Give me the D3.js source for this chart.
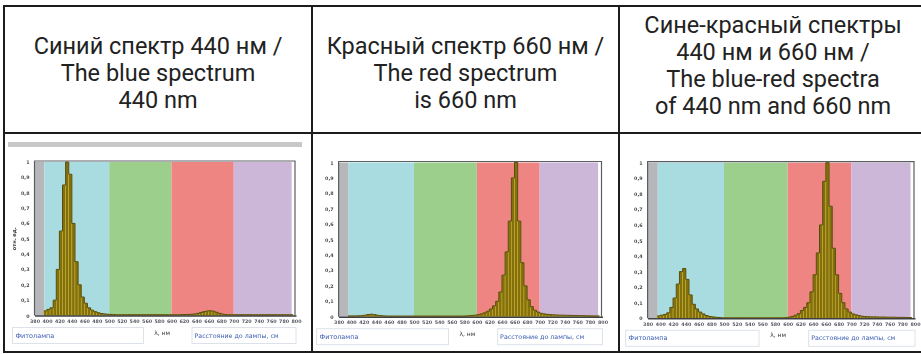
<!DOCTYPE html>
<html>
<head>
<meta charset="utf-8">
<script src="https://cdn.jsdelivr.net/npm/d3@7"></script>
<style>
  body { margin: 0; background: #fff; }
  svg { display: block; }
</style>
</head>
<body>
<svg id="chart" width="921" height="354"></svg>
<script>
// ---- Data -------------------------------------------------------------
const headerLines = [
  ["Синий спектр 440 нм /", "The blue spectrum", "440 nm"],
  ["Красный спектр 660 нм /", "The red spectrum", "is 660 nm"],
  ["Сине-красный спектры", "440 нм и 660 нм /", "The blue-red spectra", "of 440 nm and 660 nm"]
];

// Spectra: relative intensity in 5 nm bins, first bin starts at 395 nm
const binStart = 395;
const binWidth = 5;

const blueSpectrum = [
  0.03, 0.04, 0.05, 0.1, 0.3, 0.55, 0.85, 1.0, 0.92, 0.6,
  0.35, 0.2, 0.12, 0.08, 0.05, 0.035, 0.025, 0.018, 0.013, 0.01,
  0.008, 0.007, 0.006, 0.005, 0.005, 0.005, 0.005, 0.005, 0.005, 0.005,
  0.005, 0.005, 0.005, 0.005, 0.005, 0.005, 0.005, 0.005, 0.005, 0.005,
  0.005, 0.005, 0.005, 0.005, 0.006, 0.006, 0.007, 0.008, 0.01, 0.014,
  0.02, 0.025, 0.029, 0.031, 0.028, 0.021, 0.014, 0.009, 0.006, 0.005,
  0.005, 0.005, 0.005, 0.005, 0.005, 0.005, 0.005, 0.005, 0.005, 0.005,
  0.005, 0.005, 0.005, 0.005, 0.005, 0.005, 0.005, 0.005, 0.005, 0.005
];

const redSpectrum = [
  0.005, 0.005, 0.005, 0.006, 0.007, 0.01, 0.014, 0.016, 0.013, 0.009,
  0.007, 0.005, 0.004, 0.004, 0.004, 0.004, 0.004, 0.004, 0.004, 0.004,
  0.004, 0.004, 0.004, 0.004, 0.004, 0.004, 0.004, 0.004, 0.004, 0.004,
  0.004, 0.004, 0.004, 0.004, 0.004, 0.004, 0.004, 0.005, 0.006, 0.008,
  0.01, 0.013, 0.018, 0.025, 0.035, 0.05, 0.07, 0.1, 0.16, 0.27,
  0.42, 0.62, 0.9, 1.0, 0.62, 0.35, 0.2, 0.11, 0.065, 0.042,
  0.03, 0.022, 0.018, 0.015, 0.013, 0.012, 0.011, 0.01, 0.01, 0.009,
  0.009, 0.008, 0.008, 0.007, 0.007, 0.006, 0.006, 0.005, 0.005, 0.005
];

const blueRedSpectrum = [
  0.015, 0.02, 0.025, 0.035, 0.07, 0.13, 0.22, 0.3, 0.32, 0.25,
  0.15, 0.09, 0.06, 0.04, 0.028, 0.018, 0.012, 0.009, 0.007, 0.005,
  0.003, 0.003, 0.003, 0.003, 0.003, 0.003, 0.003, 0.003, 0.003, 0.003,
  0.003, 0.003, 0.003, 0.003, 0.003, 0.003, 0.003, 0.003, 0.003, 0.003,
  0.004, 0.007, 0.012, 0.02, 0.03, 0.05, 0.07, 0.1, 0.17, 0.28,
  0.42, 0.6, 0.88, 1.0, 0.72, 0.45, 0.28, 0.16, 0.1, 0.06,
  0.04, 0.028, 0.022, 0.017, 0.013, 0.011, 0.01, 0.009, 0.009, 0.008,
  0.008, 0.008, 0.007, 0.007, 0.007, 0.006, 0.006, 0.006, 0.005, 0.005
];

const spectra = [blueSpectrum, redSpectrum, blueRedSpectrum];

// Wavelength ranges shaded behind each spectrum (nm)
const bandFrom  = [380, 396, 500, 600, 700];
const bandTo    = [396, 500, 600, 700, 793];
const bandColor = ["#b6b7bb", "#a9dce1", "#9dcf8c", "#ee8582", "#cdb7d9"];

const xTicks = [380, 400, 420, 440, 460, 480, 500, 520, 540, 560, 580,
                600, 620, 640, 660, 680, 700, 720, 740, 760, 780, 800];
const yTicks = [0, 0.1, 0.2, 0.3, 0.4, 0.5, 0.6, 0.7, 0.8, 0.9, 1];

const yTitle = "отн. ед.";
const xTitle = "λ, нм";
const lampLabel = "Фитолампа";
const distanceLabel = "Расстояние до лампы, см";

// ---- Layout -----------------------------------------------------------
const svg = d3.select("#chart");
const tableLeft = 4, tableTop = 6, tableBottom = 352, tableRight = 923;
const rowSplit = 133;
const colSplits = [312, 619];
const colEdges = [tableLeft, colSplits[0], colSplits[1], tableRight];

// plot placement inside each lower cell: pixel of 380 nm, 800 nm, value 1, value 0
const panels = [
  { x0: 34.5,  x1: 296,   yTop: 162,   yZero: 315.5, yTitle: true },
  { x0: 338.6, x1: 602.5, yTop: 162.5, yZero: 316.7, yTitle: false },
  { x0: 647.6, x1: 915,   yTop: 162.7, yZero: 318.3, yTitle: false }
];

const defs = svg.append("defs");
defs.append("filter").attr("id", "soft")
  .attr("x", "-5%").attr("y", "-5%").attr("width", "110%").attr("height", "110%")
  .append("feGaussianBlur").attr("stdDeviation", 0.45);

// ---- Header texts -----------------------------------------------------
const headFont = 23.5, lineH = 26.8, capH = headFont * 0.711;
const headCenters = [158, 465.5, 773];
const headFirstLine = [46, 46, 25];   // vertical centre of the first line
headerLines.forEach((lines, c) => {
  svg.append("g").selectAll("text").data(lines).join("text")
    .attr("x", headCenters[c])
    .attr("y", (d, i) => headFirstLine[c] + i * lineH + capH / 2)
    .attr("text-anchor", "middle")
    .attr("font-family", "Roboto, 'Noto Sans', sans-serif")
    .attr("font-size", headFont)
    .attr("fill", "#222")
    .text(d => d);
});

// ---- Spectrum panels --------------------------------------------------
panels.forEach((p, k) => {
  const clipId = "cell" + k;
  defs.append("clipPath").attr("id", clipId).append("rect")
    .attr("x", colEdges[k] + 1.5).attr("y", rowSplit + 1.5)
    .attr("width", colEdges[k + 1] - colEdges[k] - 3)
    .attr("height", tableBottom - rowSplit - 3);

  const g = svg.append("g").attr("clip-path", `url(#${clipId})`)
    .append("g").attr("filter", "url(#soft)");

  const x = d3.scaleLinear().domain([380, 800]).range([p.x0, p.x1]);
  const y = d3.scaleLinear().domain([0, 1]).range([p.yZero, p.yTop]);

  // top scrollbar strip of the first screenshot
  if (k === 0) {
    g.append("rect").attr("x", 8).attr("y", 142).attr("width", 294).attr("height", 5)
      .attr("fill", "#c8c8c8");
  }

  // colour bands
  g.append("g").selectAll("rect").data(bandFrom).join("rect")
    .attr("x", (d) => x(d))
    .attr("y", y(1))
    .attr("width", (d, i) => x(bandTo[i]) - x(d))
    .attr("height", y(0) - y(1))
    .attr("fill", (d, i) => bandColor[i]);

  // spectrum bars
  const data = spectra[k].map((v, i) => ({ a: binStart + i * binWidth, v }));
  g.append("g").selectAll("rect").data(data).join("rect")
    .attr("x", d => x(d.a))
    .attr("y", d => y(d.v))
    .attr("width", x(binStart + binWidth) - x(binStart))
    .attr("height", d => Math.max(0.8, y(0) - y(d.v)))
    .attr("fill", "#83700f")
    .attr("stroke", "#cdb92f")
    .attr("stroke-width", 0.5);

  // outline along the bar tops
  const stepLine = d3.line().x(d => x(d.a)).y(d => y(d.v)).curve(d3.curveStepAfter);
  const last = data[data.length - 1];
  g.append("path")
    .datum(data.concat([{ a: last.a + binWidth, v: last.v }]))
    .attr("d", stepLine)
    .attr("fill", "none")
    .attr("stroke", "#4b410a")
    .attr("stroke-width", 0.9);

  // frame
  g.append("path")
    .attr("d", `M${x(380)},${y(0)}V${y(1) - 1}H${x(800) - 1}V${y(0)}`)
    .attr("fill", "none").attr("stroke", "#5b5d62").attr("stroke-width", 1.2);

  // x axis
  const xAxis = d3.axisBottom(x).tickValues(xTicks).tickSize(0).tickPadding(4)
    .tickFormat(d3.format("d"));
  const ax = g.append("g").attr("transform", `translate(0,${y(0)})`).call(xAxis);
  ax.select(".domain").attr("stroke", "#3d3f45").attr("stroke-width", 1.6);
  ax.selectAll("text").attr("font-size", 4.8).attr("font-weight", "bold").attr("fill", "#555861")
    .attr("font-family", "'DejaVu Sans', sans-serif");

  // y axis labels
  const yAxis = d3.axisLeft(y).tickValues(yTicks).tickSize(0).tickPadding(5)
    .tickFormat(d => d === 1 || d === 0 ? d3.format("d")(d) : d3.format(".1f")(d).replace(".", ","));
  const ay = g.append("g").attr("transform", `translate(${x(380)},0)`).call(yAxis);
  ay.select(".domain").remove();
  ay.selectAll("text").attr("font-size", 4.8).attr("font-weight", "bold").attr("fill", "#45474e")
    .attr("font-family", "'DejaVu Sans', sans-serif");

  if (p.yTitle) {
    g.append("text")
      .attr("transform", `translate(${x(380) - 19},${y(0.5)}) rotate(-90)`)
      .attr("text-anchor", "middle")
      .attr("font-size", 5).attr("font-weight", "bold").attr("fill", "#333")
      .attr("font-family", "'DejaVu Sans', sans-serif")
      .text(yTitle);
  }

  // bottom info boxes
  const boxTop = y(0) + 12, boxH = 16;
  g.append("rect").attr("x", x(380) - 22).attr("y", boxTop)
    .attr("width", x(555) - x(380) + 22).attr("height", boxH)
    .attr("fill", "#fff").attr("stroke", "#dde2ea").attr("stroke-width", 1);
  g.append("rect").attr("x", x(633)).attr("y", boxTop)
    .attr("width", x(800) - x(633)).attr("height", boxH)
    .attr("fill", "#fff").attr("stroke", "#dde2ea").attr("stroke-width", 1);
  g.append("text").attr("x", x(380) - 19).attr("y", boxTop + 10)
    .attr("font-size", 6.5).attr("fill", "#3a5cb3")
    .attr("font-family", "'DejaVu Sans', sans-serif").text(lampLabel);
  g.append("text").attr("x", x(637)).attr("y", boxTop + 10)
    .attr("font-size", 6.3).attr("fill", "#3a5cb3")
    .attr("font-family", "'DejaVu Sans', sans-serif").text(distanceLabel);
  g.append("text").attr("x", x(585)).attr("y", y(0) + 19)
    .attr("text-anchor", "middle")
    .attr("font-size", 6).attr("fill", "#333")
    .attr("font-family", "'DejaVu Sans', sans-serif").text(xTitle);
});

// ---- Table grid -------------------------------------------------------
const grid = svg.append("g").attr("stroke", "#1c1c1c").attr("stroke-width", 2).attr("fill", "none");
grid.append("rect").attr("x", tableLeft).attr("y", tableTop)
  .attr("width", tableRight - tableLeft).attr("height", tableBottom - tableTop);
grid.append("line").attr("x1", tableLeft).attr("x2", tableRight)
  .attr("y1", rowSplit).attr("y2", rowSplit);
colSplits.forEach(cx => grid.append("line")
  .attr("x1", cx).attr("x2", cx).attr("y1", tableTop).attr("y2", tableBottom));
</script>
</body>
</html>
